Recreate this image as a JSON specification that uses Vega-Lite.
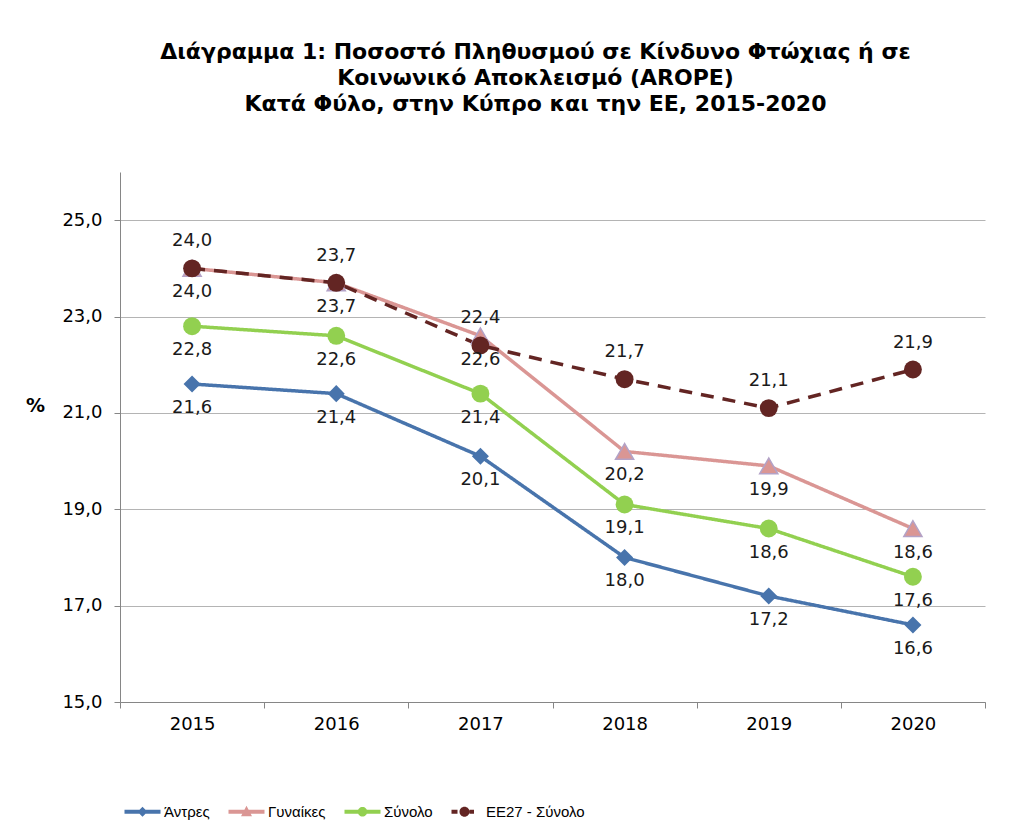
{
  "$schema": "https://vega.github.io/schema/vega-lite/v6.json",
  "width": 865,
  "height": 530,
  "autosize": {"type": "none"},
  "padding": {"left": 120, "top": 172, "right": 31, "bottom": 134},
  "background": "white",
  "config": {
    "locale": {"number": {"decimal": ",", "thousands": ".", "grouping": [3], "currency": ["", " €"]}},
    "view": {"stroke": null},
    "font": "DejaVu Sans"
  },
  "title": {
    "text": ["Διάγραμμα 1: Ποσοστό Πληθυσμού σε Κίνδυνο Φτώχιας ή σε", "Κοινωνικό Αποκλεισμό (AROPE)", "Κατά Φύλο, στην Κύπρο και την ΕΕ, 2015-2020"],
    "font": "DejaVu Sans",
    "fontSize": 22,
    "fontWeight": "bold",
    "color": "#000000",
    "lineHeight": 26,
    "anchor": "middle",
    "dx": -17,
    "offset": 56
  },
  "data": {
    "values": [
      {"year": "2015", "series": "Άντρες", "value": 21.6},
      {"year": "2016", "series": "Άντρες", "value": 21.4},
      {"year": "2017", "series": "Άντρες", "value": 20.1},
      {"year": "2018", "series": "Άντρες", "value": 18.0},
      {"year": "2019", "series": "Άντρες", "value": 17.2},
      {"year": "2020", "series": "Άντρες", "value": 16.6},
      {"year": "2015", "series": "Γυναίκες", "value": 24.0},
      {"year": "2016", "series": "Γυναίκες", "value": 23.7},
      {"year": "2017", "series": "Γυναίκες", "value": 22.6},
      {"year": "2018", "series": "Γυναίκες", "value": 20.2},
      {"year": "2019", "series": "Γυναίκες", "value": 19.9},
      {"year": "2020", "series": "Γυναίκες", "value": 18.6},
      {"year": "2015", "series": "Σύνολο", "value": 22.8},
      {"year": "2016", "series": "Σύνολο", "value": 22.6},
      {"year": "2017", "series": "Σύνολο", "value": 21.4},
      {"year": "2018", "series": "Σύνολο", "value": 19.1},
      {"year": "2019", "series": "Σύνολο", "value": 18.6},
      {"year": "2020", "series": "Σύνολο", "value": 17.6},
      {"year": "2015", "series": "ΕΕ27 - Σύνολο", "value": 24.0},
      {"year": "2016", "series": "ΕΕ27 - Σύνολο", "value": 23.7},
      {"year": "2017", "series": "ΕΕ27 - Σύνολο", "value": 22.4},
      {"year": "2018", "series": "ΕΕ27 - Σύνολο", "value": 21.7},
      {"year": "2019", "series": "ΕΕ27 - Σύνολο", "value": 21.1},
      {"year": "2020", "series": "ΕΕ27 - Σύνολο", "value": 21.9}
    ]
  },
  "encoding": {
    "x": {
      "field": "year",
      "type": "ordinal",
      "scale": {"type": "band", "paddingInner": 0, "paddingOuter": 0},
      "axis": {
        "title": null,
        "labelAngle": 0,
        "labelFont": "DejaVu Sans",
        "labelFontSize": 18,
        "labelColor": "#000000",
        "labelPadding": 7,
        "tickBand": "extent",
        "tickSize": 6,
        "tickColor": "#868686",
        "domainColor": "#868686",
        "grid": false
      }
    },
    "y": {
      "field": "value",
      "type": "quantitative",
      "scale": {"domain": [15, 26], "nice": false, "zero": false},
      "axis": {
        "title": "%",
        "titleAngle": 0,
        "titleFont": "DejaVu Sans",
        "titleFontSize": 19,
        "titleFontWeight": "bold",
        "titleColor": "#000000",
        "titleX": -85,
        "titleY": 233,
        "titleAlign": "center",
        "titleBaseline": "middle",
        "values": [15, 17, 19, 21, 23, 25],
        "format": ".1f",
        "labelFont": "DejaVu Sans",
        "labelFontSize": 18,
        "labelColor": "#000000",
        "labelPadding": 12,
        "tickSize": 6,
        "tickColor": "#868686",
        "domainColor": "#868686",
        "grid": true,
        "gridColor": "#b4b4b4"
      }
    },
    "color": {
      "field": "series",
      "type": "nominal",
      "sort": ["Άντρες", "Γυναίκες", "Σύνολο", "ΕΕ27 - Σύνολο"],
      "scale": {"domain": ["Άντρες", "Γυναίκες", "Σύνολο", "ΕΕ27 - Σύνολο"], "range": ["#4874AC", "#DA9694", "#92D050", "#632523"]},
      "legend": {
        "orient": "none",
        "legendX": 15,
        "legendY": 632,
        "direction": "horizontal",
        "title": null,
        "padding": 0,
        "labelFont": "Liberation Sans",
        "labelFontSize": 15,
        "labelColor": "#000000",
        "symbolSize": 100,
        "labelOffset": 14,
        "columnPadding": 18,
        "encode": {
          "symbols": {
            "update": {
              "shape": {"signal": "datum.value === 'Άντρες' ? 'M-3.6,-0.4H3.6V0.4H-3.6Z M-1,0L0,-1L1,0L0,1Z' : datum.value === 'Γυναίκες' ? 'M-3.6,-0.4H3.6V0.4H-3.6Z M0,-1.2L1.1,0.9L-1.1,0.9Z' : datum.value === 'Σύνολο' ? 'M-3.6,-0.4H3.6V0.4H-3.6Z M-0.95,0A0.95,0.95 0 1,1 0.95,0A0.95,0.95 0 1,1 -0.95,0Z' : 'M-2.6,-0.4H-1.4V0.4H-2.6Z M1,-0.4H1.9V0.4H1Z M-1,0A1,1 0 1,1 1,0A1,1 0 1,1 -1,0Z'"},
              "fill": {"signal": "scale('color', datum.value)"},
              "strokeWidth": {"value": 0},
              "opacity": {"value": 1}
            }
          }
        }
      }
    }
  },
  "layer": [
    {
      "mark": {"type": "line", "strokeWidth": 3.5},
      "encoding": {
        "strokeDash": {
          "field": "series",
          "type": "nominal",
          "scale": {"domain": ["Άντρες", "Γυναίκες", "Σύνολο", "ΕΕ27 - Σύνολο"], "range": [[1, 0], [1, 0], [1, 0], [13, 9]]},
          "legend": null
        }
      }
    },
    {
      "transform": [{"filter": "datum.series === 'Άντρες'"}],
      "mark": {"type": "point", "filled": true, "opacity": 1, "size": 290, "shape": "diamond"}
    },
    {
      "transform": [{"filter": "datum.series === 'Γυναίκες'"}],
      "mark": {"type": "point", "filled": true, "opacity": 1, "size": 330, "shape": "triangle-up", "stroke": "#b3a2c7", "strokeWidth": 1.5}
    },
    {
      "transform": [{"filter": "datum.series === 'Σύνολο'"}],
      "mark": {"type": "point", "filled": true, "opacity": 1, "size": 320, "shape": "circle"}
    },
    {
      "transform": [{"filter": "datum.series === 'ΕΕ27 - Σύνολο'"}],
      "mark": {"type": "point", "filled": true, "opacity": 1, "size": 320, "shape": "circle"}
    },
    {
      "transform": [{"filter": "datum.series !== 'ΕΕ27 - Σύνολο'"}],
      "mark": {"type": "text", "dy": 24, "fontSize": 18, "font": "DejaVu Sans", "color": "#1a1a1a", "baseline": "middle"},
      "encoding": {"color": {"value": "#1a1a1a"}, "text": {"field": "value", "type": "quantitative", "format": ".1f"}}
    },
    {
      "transform": [{"filter": "datum.series === 'ΕΕ27 - Σύνολο'"}],
      "mark": {"type": "text", "dy": -27, "fontSize": 18, "font": "DejaVu Sans", "color": "#1a1a1a", "baseline": "middle"},
      "encoding": {"color": {"value": "#1a1a1a"}, "text": {"field": "value", "type": "quantitative", "format": ".1f"}}
    }
  ]
}
